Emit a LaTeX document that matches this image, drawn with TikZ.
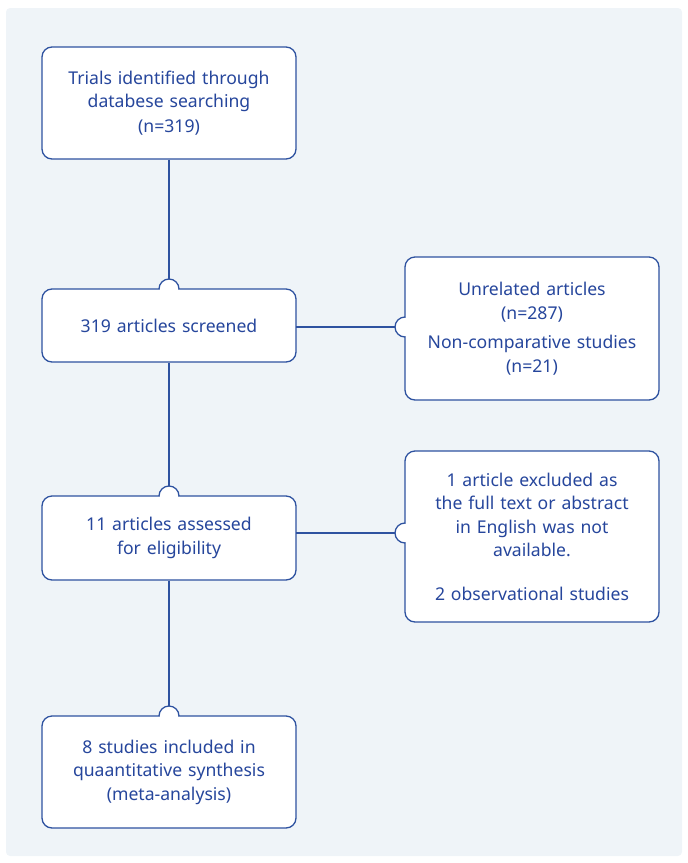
\documentclass[tikz,border=0pt]{standalone}
\usepackage{fontspec}
\setmainfont{Noto Sans}
\usetikzlibrary{calc}
\definecolor{bgc}{RGB}{239,244,248}
\definecolor{lnc}{RGB}{46,82,160}
\definecolor{txc}{RGB}{38,70,156}
\tikzset{
  ln/.style={draw=lnc, line width=1.1pt},
  boxn/.style={draw=lnc, line width=1.3pt, fill=white, rounded corners=10pt,
    minimum width=254pt, text width=240pt, align=center, inner sep=0pt,
    text=txc, font=\fontsize{17.6}{23.5}\selectfont},
}
\newcommand\topbump[1]{%
  \fill[white] ($(#1)+(-9.2pt,1.2pt)$) rectangle ($(#1)+(9.2pt,-2pt)$);
  \draw[ln, fill=white, line width=1.3pt] ($(#1)+(-10pt,0pt)$) arc[start angle=180, end angle=0, radius=10pt];}
\newcommand\leftbump[1]{%
  \fill[white] ($(#1)+(-1.2pt,-9.2pt)$) rectangle ($(#1)+(2pt,9.2pt)$);
  \draw[ln, fill=white, line width=1.3pt] ($(#1)+(0pt,-10pt)$) arc[start angle=270, end angle=90, radius=10pt];}
\begin{document}
\begin{tikzpicture}[x=1pt,y=-1pt]
\useasboundingbox (0,0) rectangle (688,863);
\fill[bgc, rounded corners=4pt] (6,8) rectangle (682,856);

\node[boxn, minimum height=112pt] (b1) at (169,103) {Trials identified through\\ databese searching\\[1pt] (n=319)};
\node[boxn, minimum height=73pt] (b2) at (169,325.5) {319 articles screened};
\node[boxn, minimum height=84pt] (b3) at (169,538) {11 articles assessed\\ for eligibility};
\node[boxn, minimum height=112pt] (b4) at (169,772) {8 studies included in\\ quaantitative synthesis\\ (meta-analysis)};
\node[boxn, minimum height=143pt] (r1) at (532,328.5) {Unrelated articles\\ (n=287)\\[6pt] Non-comparative studies\\ (n=21)};
\node[boxn, minimum height=171pt] (r2) at (532,536.5) {1 article excluded as\\ the full text or abstract\\ in English was not\\ available.\\[20pt] 2 observational studies};

\coordinate (p2) at (169,289);
\coordinate (p3) at (169,496);
\coordinate (p4) at (169,716);
\coordinate (q1) at (405,327);
\coordinate (q2) at (405,533);
\topbump{p2}
\topbump{p3}
\topbump{p4}
\leftbump{q1}
\leftbump{q2}
\coordinate (t2) at (169,279);
\coordinate (t3) at (169,486);
\coordinate (t4) at (169,706);
\coordinate (s1) at (395,327);
\coordinate (s2) at (395,533);
\coordinate (o1) at (296,327);
\coordinate (o2) at (296,533);
\draw[ln] (b1.south) -- (t2);
\draw[ln] (b2.south) -- (t3);
\draw[ln] (b3.south) -- (t4);
\draw[ln] (o1) -- (s1);
\draw[ln] (o2) -- (s2);
\end{tikzpicture}
\end{document}
